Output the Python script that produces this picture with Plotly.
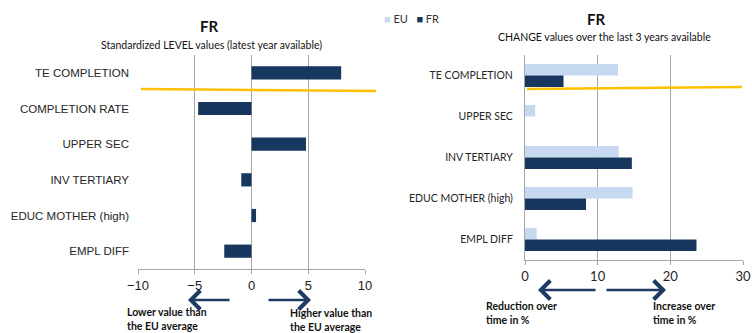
import plotly.graph_objects as go

# --- data -------------------------------------------------------------
level_categories = ["TE COMPLETION", "COMPLETION RATE", "UPPER SEC",
                    "INV TERTIARY", "EDUC MOTHER (high)", "EMPL DIFF"]
level_values = [7.9, -4.7, 4.8, -0.9, 0.4, -2.4]

change_categories = ["TE COMPLETION", "UPPER SEC", "INV TERTIARY",
                     "EDUC MOTHER (high)", "EMPL DIFF"]
change_eu = [12.8, 1.4, 12.9, 14.8, 1.6]
change_fr = [5.3, None, 14.7, 8.4, 23.6]

level_ticks = [-10, -5, 0, 5, 10]
change_ticks = [0, 10, 20, 30]

# --- styling ----------------------------------------------------------
W, H = 752, 333
NAVY = "#17375e"
LIGHT = "#c6d9f1"
GOLD = "#ffc000"
GRID = "#a6a6a6"
ARIAL = "Liberation Sans, Arial, sans-serif"
CALI = "Lato, Carlito, Calibri, sans-serif"


def px(x):
    return x / W


def py(y):
    return 1 - y / H


fig = go.Figure()

fig.add_trace(go.Bar(
    y=level_categories, x=level_values, orientation="h",
    marker=dict(color=NAVY, line=dict(width=0)), width=0.37,
    xaxis="x", yaxis="y", showlegend=False, name="FR",
))
fig.add_trace(go.Bar(
    y=change_categories, x=change_eu, orientation="h",
    marker=dict(color=LIGHT, line=dict(width=0)), width=0.28, offset=-0.28,
    xaxis="x2", yaxis="y2", showlegend=False, name="EU",
))
fig.add_trace(go.Bar(
    y=change_categories, x=change_fr, orientation="h",
    marker=dict(color=NAVY, line=dict(width=0)), width=0.28, offset=0.0,
    xaxis="x2", yaxis="y2", showlegend=False, name="FR",
))

axis_common = dict(showgrid=True, gridcolor=GRID, gridwidth=1, zeroline=False,
                   showline=True, linecolor=GRID, linewidth=1,
                   ticks="outside", ticklen=4, tickcolor=GRID, fixedrange=True,
                   automargin=False)

fig.update_layout(
    width=W, height=H,
    margin=dict(l=0, r=0, t=0, b=0),
    paper_bgcolor="white", plot_bgcolor="white",
    barmode="overlay",
    xaxis=dict(domain=[px(138), px(365)], anchor="y", range=[-10, 10],
               tickvals=level_ticks,
               tickfont=dict(family=ARIAL, size=13, color="#1a1a1a"),
               **axis_common),
    yaxis=dict(domain=[py(269), py(55)], anchor="x", type="category",
               categoryorder="array", categoryarray=level_categories,
               autorange="reversed", showgrid=False, zeroline=False,
               showline=False, ticks="", ticklabelstandoff=8, automargin=False,
               tickfont=dict(family=ARIAL, size=11.5, color="#262626")),
    # small category separators on the zero line
    yaxis3=dict(overlaying="y", anchor="free", position=px(251),
                range=[5.5, -0.5], tickvals=[0.5, 1.5, 2.5, 3.5, 4.5],
                ticks="outside", ticklen=4, tickcolor=GRID, automargin=False,
                showticklabels=False, showgrid=False, zeroline=False,
                showline=False),
    xaxis2=dict(domain=[px(525), px(743)], anchor="y2", range=[0, 30],
                tickvals=change_ticks,
                tickfont=dict(family=CALI, size=13, color="#262626"),
                **axis_common),
    yaxis2=dict(domain=[py(260), py(55)], anchor="x2", type="category",
                categoryorder="array", categoryarray=change_categories,
                autorange="reversed", showgrid=False, zeroline=False,
                showline=True, linecolor=GRID, linewidth=1, ticks="",
                ticklabelstandoff=9, automargin=False,
                tickfont=dict(family=CALI, size=10.5, color="#262626")),
)

# benchmark lines
fig.add_shape(type="line", xref="paper", yref="paper",
              x0=px(141), y0=py(89), x1=px(376), y1=py(91),
              line=dict(color=GOLD, width=2.5))
fig.add_shape(type="line", xref="paper", yref="paper",
              x0=px(527), y0=py(89), x1=px(742), y1=py(87),
              line=dict(color=GOLD, width=2.5))

ann = []
# titles
ann.append(dict(text="<b>FR</b>", x=px(209), y=py(26), font=dict(family=CALI, size=15, color="#111")))
ann.append(dict(text="Standardized LEVEL values (latest year available)", x=px(211), y=py(45),
                font=dict(family=CALI, size=10.5, color="#111")))
ann.append(dict(text="<b>FR</b>", x=px(596), y=py(19), font=dict(family=CALI, size=15, color="#111")))
ann.append(dict(text="CHANGE values over the last 3 years available", x=px(604), y=py(37),
                font=dict(family=CALI, size=10.5, color="#111")))
# legend
ann.append(dict(text=f"<span style='color:{LIGHT}'>■</span> EU   <span style='color:{NAVY}'>■</span> FR",
                x=px(382), y=py(18), xanchor="left", font=dict(family=CALI, size=11, color="#333")))
# direction notes
note_font = dict(family=CALI, size=10.5, color="#111")
ann.append(dict(text="<b>Lower value than<br>the EU average</b>", x=px(125), y=py(319), xanchor="left",
                align="left", font=note_font))
ann.append(dict(text="<b>Higher value than<br>the EU average</b>", x=px(288), y=py(320), xanchor="left",
                align="left", font=note_font))
ann.append(dict(text="<b>Reduction over<br>time in %</b>", x=px(484), y=py(313), xanchor="left",
                align="left", font=note_font))
ann.append(dict(text="<b>Increase over<br>time in %</b>", x=px(651), y=py(313), xanchor="left",
                align="left", font=note_font))
for a in ann:
    a.setdefault("xanchor", "center")
    a.update(xref="paper", yref="paper", yanchor="middle", showarrow=False)

# direction arrows (tail -> head, in page pixels)
arrows = [((231, 300), (188, 300)), ((267, 300), (311, 300)),
          ((597, 290), (538, 290)), ((605, 290), (666, 290))]
for (x0, y0), (x1, y1) in arrows:
    ann.append(dict(x=px(x1), y=py(y1), ax=x0 - x1, ay=y0 - y1,
                    xref="paper", yref="paper", axref="pixel", ayref="pixel",
                    text="", showarrow=True, arrowhead=4, arrowsize=1.4,
                    arrowwidth=2.6, arrowcolor="#1f3b63"))

fig.update_layout(annotations=ann)

fig.write_html("out.html")
